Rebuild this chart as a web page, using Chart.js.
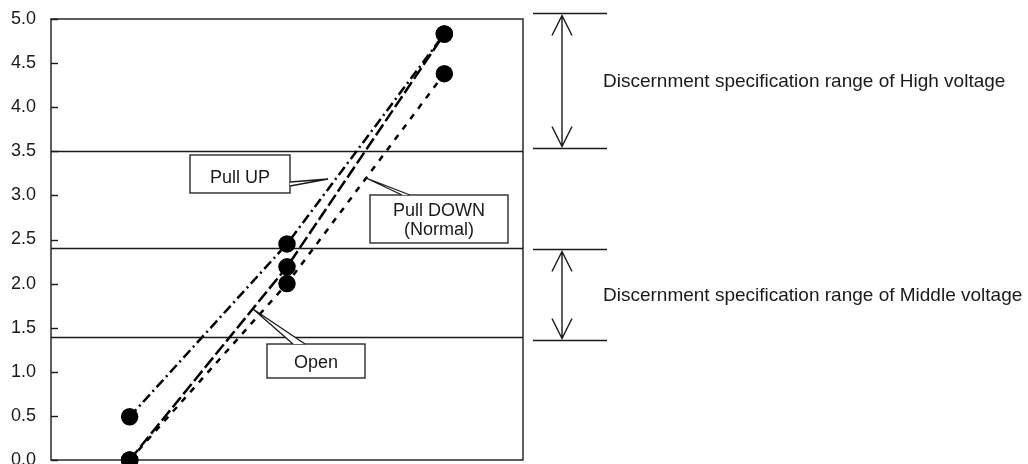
<!DOCTYPE html>
<html lang="en">
<head>
<meta charset="UTF-8">
<title>Discernment voltage</title>
<script src="https://cdn.jsdelivr.net/npm/chart.js@4.4.0/dist/chart.umd.min.js"></script>
<style>
    body { margin: 0; background: #fff; }
    #wrap { width: 1028px; height: 464px; position: relative; }
</style>
</head>
<body>
<div id="wrap"><canvas id="voltChart"></canvas></div>
<script>
    // data
    const xPositions = [1, 3, 5];
    const pullUp = [0.49, 2.45, 4.83];
    const pullDown = [0.0, 2.0, 4.38];
    const openLine = [0.0, 2.19, 4.83];
    const refLevels = [3.5, 2.4, 1.4];
    const highRange = [3.54, 5.07];
    const midRange = [1.36, 2.39];
    const rangeLabels = ['Discernment specification range of High voltage',
                         'Discernment specification range of Middle voltage'];

    const INK = '#1a1a1a';
    const FONT = '"Liberation Sans", Arial, sans-serif';

    function pts(vals) {
        return vals.map((v, i) => ({ x: xPositions[i], y: v }));
    }

    function series(label, vals, dash) {
        return {
            label,
            data: pts(vals),
            showLine: true,
            borderColor: '#000',
            borderWidth: 2.5,
            borderDash: dash,
            pointRadius: 7.5,
            pointHoverRadius: 7.5,
            pointBackgroundColor: '#000',
            pointBorderColor: '#000',
            clip: false
        };
    }

    function callout(ctx, box, tail, lines) {
        ctx.save();
        ctx.fillStyle = '#fff';
        ctx.strokeStyle = INK;
        ctx.lineWidth = 1.3;
        ctx.fillRect(box[0], box[1], box[2], box[3]);
        ctx.strokeRect(box[0], box[1], box[2], box[3]);
        // wedge-shaped pointer
        ctx.beginPath();
        ctx.moveTo(tail[0], tail[1]);
        ctx.lineTo(tail[2], tail[3]);
        ctx.lineTo(tail[4], tail[5]);
        ctx.closePath();
        ctx.fill();
        ctx.beginPath();
        ctx.moveTo(tail[2], tail[3]);
        ctx.lineTo(tail[0], tail[1]);
        ctx.lineTo(tail[4], tail[5]);
        ctx.stroke();
        ctx.fillStyle = INK;
        ctx.font = '18px ' + FONT;
        ctx.textAlign = 'center';
        ctx.textBaseline = 'alphabetic';
        const cx = box[0] + box[2] / 2;
        lines.forEach(l => ctx.fillText(l[0], cx, l[1]));
        ctx.restore();
    }

    function arrow(ctx, x, yTop, yBot) {
        ctx.beginPath();
        ctx.moveTo(x, yTop + 2);
        ctx.lineTo(x, yBot - 2);
        ctx.moveTo(x - 10, yTop + 22);
        ctx.lineTo(x, yTop + 2);
        ctx.lineTo(x + 10, yTop + 22);
        ctx.moveTo(x - 10, yBot - 22);
        ctx.lineTo(x, yBot - 2);
        ctx.lineTo(x + 10, yBot - 22);
        ctx.stroke();
    }

    const decor = {
        id: 'decor',
        beforeDatasetsDraw(chart) {
            const { ctx, chartArea: a, scales: { y } } = chart;
            ctx.save();
            ctx.strokeStyle = INK;
            ctx.lineWidth = 1.4;
            refLevels.forEach(v => {
                const py = Math.round(y.getPixelForValue(v)) + 0.5;
                ctx.beginPath();
                ctx.moveTo(a.left, py);
                ctx.lineTo(a.right, py);
                ctx.stroke();
            });
            ctx.strokeRect(a.left, a.top, a.right - a.left, a.bottom - a.top);
            // inner tick marks
            for (let v = 0; v <= 5; v += 0.5) {
                const py = Math.round(y.getPixelForValue(v)) + 0.5;
                ctx.beginPath();
                ctx.moveTo(a.left, py);
                ctx.lineTo(a.left + 7, py);
                ctx.stroke();
            }
            // range markers on the right
            const x0 = a.right + 10, x1 = a.right + 84, ax = a.right + 39;
            [highRange, midRange].forEach((r, i) => {
                const yb = Math.round(y.getPixelForValue(r[0])) + 0.5;
                const yt = Math.round(y.getPixelForValue(r[1])) + 0.5;
                ctx.beginPath();
                ctx.moveTo(x0, yt); ctx.lineTo(x1, yt);
                ctx.moveTo(x0, yb); ctx.lineTo(x1, yb);
                ctx.stroke();
                arrow(ctx, ax, yt, yb);
                ctx.fillStyle = INK;
                ctx.font = '19px ' + FONT;
                ctx.textAlign = 'left';
                ctx.textBaseline = 'middle';
                ctx.fillText(rangeLabels[i], a.right + 80, (yt + yb) / 2 + 1);
            });
            ctx.restore();
        },
        afterDatasetsDraw(chart) {
            const { ctx } = chart;
            callout(ctx, [190, 155, 100, 38], [328, 179, 290, 182, 290, 186], [['Pull UP', 183]]);
            callout(ctx, [370, 195, 138, 48], [366, 178, 402, 195, 410, 195],
                [['Pull DOWN', 216], ['(Normal)', 235]]);
            callout(ctx, [267, 344, 98, 34], [253, 309, 293, 344, 305, 344], [['Open', 368]]);
        }
    };

    new Chart(document.getElementById('voltChart'), {
        type: 'scatter',
        data: {
            datasets: [
                series('Pull UP', pullUp, [10, 4, 2, 4]),
                series('Pull DOWN (Normal)', pullDown, [6, 7]),
                series('Open', openLine, [13, 4])
            ]
        },
        options: {
            responsive: true,
            maintainAspectRatio: false,
            animation: false,
            layout: { autoPadding: false, padding: { top: 19, right: 505, bottom: 4, left: 0 } },
            plugins: { legend: { display: false }, tooltip: { enabled: false } },
            scales: {
                x: { type: 'linear', min: 0, max: 6, display: false },
                y: {
                    min: 0,
                    max: 5,
                    grid: { display: false, drawTicks: false },
                    border: { display: false },
                    ticks: {
                        stepSize: 0.5,
                        padding: 15,
                        color: INK,
                        font: { family: FONT, size: 18 },
                        callback: v => v.toFixed(1)
                    },
                    afterFit(s) {
                        s.width = 51;
                        s.paddingTop = 0;
                        s.paddingBottom = 0;
                    }
                }
            }
        },
        plugins: [decor]
    });
</script>
</body>
</html>
